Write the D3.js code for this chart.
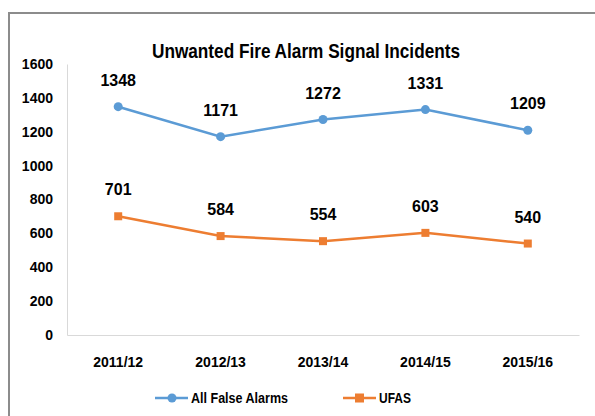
<!DOCTYPE html>
<html>
  <head>
    <meta charset="utf-8" />
    <title>Unwanted Fire Alarm Signal Incidents</title>
    <style>
      body {
        margin: 0;
        background: #fff;
      }
      svg text {
        font-family: "Liberation Sans", Arial, sans-serif;
        fill: #000;
      }
    </style>
  </head>
  <body>
    <svg class="canvas"></svg>
    <script src="https://cdn.jsdelivr.net/npm/d3@7"></script>
    <script>
      const years = ["2011/12", "2012/13", "2013/14", "2014/15", "2015/16"];
      const allFalseAlarms = [1348, 1171, 1272, 1331, 1209];
      const ufas = [701, 584, 554, 603, 540];
      const yTicks = [0, 200, 400, 600, 800, 1000, 1200, 1400, 1600];

      const width = 595,
        height = 416;
      const margin = { left: 67, right: 16, top: 64, bottom: 81 };

      const svg = d3.select(".canvas").attr("width", width).attr("height", height);

      // frame around the chart (runs off the right / bottom edge)
      svg
        .append("rect")
        .attr("x", 9)
        .attr("y", 13)
        .attr("width", width + 20)
        .attr("height", height + 20)
        .attr("fill", "none")
        .attr("stroke", "#8c8c8c")
        .attr("stroke-width", 2);

      const x = d3
        .scaleBand()
        .domain(years)
        .range([margin.left, width - margin.right]);

      const y = d3
        .scaleLinear()
        .domain([0, 1600])
        .range([height - margin.bottom, margin.top]);

      //----------------title----------------
      svg
        .append("text")
        .attr("x", 306)
        .attr("y", 58)
        .attr("text-anchor", "middle")
        .attr("textLength", 308)
        .attr("lengthAdjust", "spacingAndGlyphs")
        .style("font-size", "21px")
        .style("font-weight", "bold")
        .text("Unwanted Fire Alarm Signal Incidents");

      //----------------axes----------------
      const yAxis = svg
        .append("g")
        .attr("transform", `translate(${margin.left},0)`)
        .call(d3.axisLeft(y).tickValues(yTicks).tickFormat(d3.format("d")).tickSize(0).tickPadding(14));
      yAxis.select(".domain").attr("stroke", "#d9d9d9").attr("stroke-width", 1);
      yAxis
        .selectAll("text")
        .style("font-size", "14px")
        .style("font-weight", "bold")
        .attr("font-family", null);

      const xAxis = svg
        .append("g")
        .attr("transform", `translate(0,${y(0)})`)
        .call(d3.axisBottom(x).tickSize(0).tickPadding(22));
      xAxis.select(".domain").attr("stroke", "#d9d9d9").attr("stroke-width", 1);
      xAxis
        .selectAll("text")
        .style("font-size", "14px")
        .style("font-weight", "bold")
        .attr("font-family", null);

      const cx = (d) => x(d) + x.bandwidth() / 2;

      const series = [
        { name: "All False Alarms", values: allFalseAlarms, color: "#5b9bd5", marker: "circle", labelW: 97 },
        { name: "UFAS", values: ufas, color: "#ed7d31", marker: "square", labelW: 32 },
      ];

      const line = d3
        .line()
        .x((d) => cx(d.year))
        .y((d) => y(d.value));

      series.forEach((s) => {
        const pts = years.map((yr, i) => ({ year: yr, value: s.values[i] }));
        svg
          .append("path")
          .datum(pts)
          .attr("fill", "none")
          .attr("stroke", s.color)
          .attr("stroke-width", 2.5)
          .attr("d", line);

        if (s.marker === "circle") {
          svg
            .selectAll(null)
            .data(pts)
            .enter()
            .append("circle")
            .attr("cx", (d) => cx(d.year))
            .attr("cy", (d) => y(d.value))
            .attr("r", 4.5)
            .attr("fill", s.color);
        } else {
          svg
            .selectAll(null)
            .data(pts)
            .enter()
            .append("rect")
            .attr("x", (d) => cx(d.year) - 4)
            .attr("y", (d) => y(d.value) - 4)
            .attr("width", 8)
            .attr("height", 8)
            .attr("fill", s.color);
        }

        svg
          .selectAll(null)
          .data(pts)
          .enter()
          .append("text")
          .attr("x", (d) => cx(d.year))
          .attr("y", (d) => y(d.value) - 21)
          .attr("text-anchor", "middle")
          .style("font-size", "16px")
          .style("font-weight", "bold")
          .text((d) => d.value);
      });

      //----------------legend----------------
      const legendPos = [155, 343];
      series.forEach((s, i) => {
        const g = svg.append("g").attr("transform", `translate(${legendPos[i]},398)`);
        g.append("line")
          .attr("x1", 0)
          .attr("x2", 33)
          .attr("stroke", s.color)
          .attr("stroke-width", 2.5);
        if (s.marker === "circle") {
          g.append("circle").attr("cx", 17).attr("r", 4.5).attr("fill", s.color);
        } else {
          g.append("rect")
            .attr("x", 12)
            .attr("y", -4.5)
            .attr("width", 9)
            .attr("height", 9)
            .attr("fill", s.color);
        }
        g.append("text")
          .attr("x", 36)
          .attr("y", 5)
          .attr("textLength", s.labelW)
          .attr("lengthAdjust", "spacingAndGlyphs")
          .style("font-size", "15px")
          .style("font-weight", "bold")
          .text(s.name);
      });
    </script>
  </body>
</html>
